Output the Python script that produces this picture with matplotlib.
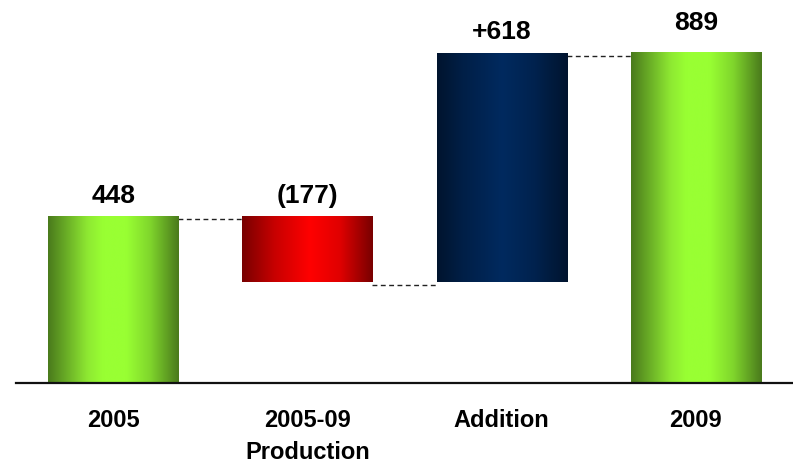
import numpy as np
import matplotlib
matplotlib.use("Agg")
import matplotlib.pyplot as plt
from matplotlib.colors import LinearSegmentedColormap

categories = ["2005", "2005-09\nProduction", "Addition", "2009"]
values = [448, -177, 618, 889]
kinds = ["total", "delta", "delta", "total"]
value_labels = ["448", "(177)", "+618", "889"]

plt.rcParams['font.family'] = ['Liberation Sans', 'DejaVu Sans']

W, H = 793, 467
fig = plt.figure(figsize=(W / 100, H / 100), dpi=100)
base_px = 382.5
scale = 0.3705  # px per unit
ax = fig.add_axes([16 / W, (H - base_px) / H, (W - 16) / W, base_px / H])
ax.set_xlim(-0.5, 3.5)
ax.set_ylim(0, base_px / scale)

cmaps = {
    "green": LinearSegmentedColormap.from_list(
        "g", [(0, "#4a7a1c"), (0.3, "#8ee832"), (0.42, "#99ff33"), (0.6, "#99ff33"),
              (0.78, "#80d62c"), (1, "#4a7a1c")]),
    "red": LinearSegmentedColormap.from_list(
        "r", [(0, "#780000"), (0.25, "#c80000"), (0.52, "#ff0000"), (0.75, "#e00000"),
              (1, "#780000")]),
    "blue": LinearSegmentedColormap.from_list(
        "b", [(0, "#00142e"), (0.2, "#001f47"), (0.5, "#002a5f"), (0.75, "#00224e"),
              (1, "#00142e")]),
}

w = 0.67
grad = np.linspace(0, 1, 256).reshape(1, -1)
level = 0
bars = []
for i, (v, k) in enumerate(zip(values, kinds)):
    if k == "total":
        bot, top = 0, v
        cm = cmaps["green"]
        level = v
    else:
        if v < 0:
            bot, top = level + v, level
            cm = cmaps["red"]
        else:
            bot, top = level, level + v
            cm = cmaps["blue"]
        level = level + v
    ax.imshow(grad, cmap=cm, aspect="auto", extent=[i - w / 2, i + w / 2, bot, top],
              interpolation="bicubic", zorder=2)
    bars.append((bot, top, level))

# connectors
for i in range(len(values) - 1):
    lvl = bars[i][2]
    ax.plot([i + w / 2, i + 1 - w / 2], [lvl - 8, lvl - 8], color="#222222", lw=1.0,
            dashes=(3.5, 2.5), zorder=1)

# value labels
offsets = [10, 10, 10, 17]
for i, (lab, (bot, top, _)) in enumerate(zip(value_labels, bars)):
    ax.annotate(lab, xy=(i, top), xytext=(0, offsets[i]), textcoords="offset points",
                ha="center", va="baseline", fontsize=19, fontweight="bold", color="black")

ax.set_xticks(range(len(categories)))
ax.set_xticklabels(categories, fontsize=17, fontweight="bold", linespacing=1.5)
ax.tick_params(axis="x", length=0, pad=19, colors="black")
ax.set_yticks([])
for s in ["left", "right", "top"]:
    ax.spines[s].set_visible(False)
ax.spines["bottom"].set_linewidth(1.6)
ax.spines["bottom"].set_color("#111111")
ax.patch.set_alpha(0)

fig.savefig("out.png", dpi=100)
